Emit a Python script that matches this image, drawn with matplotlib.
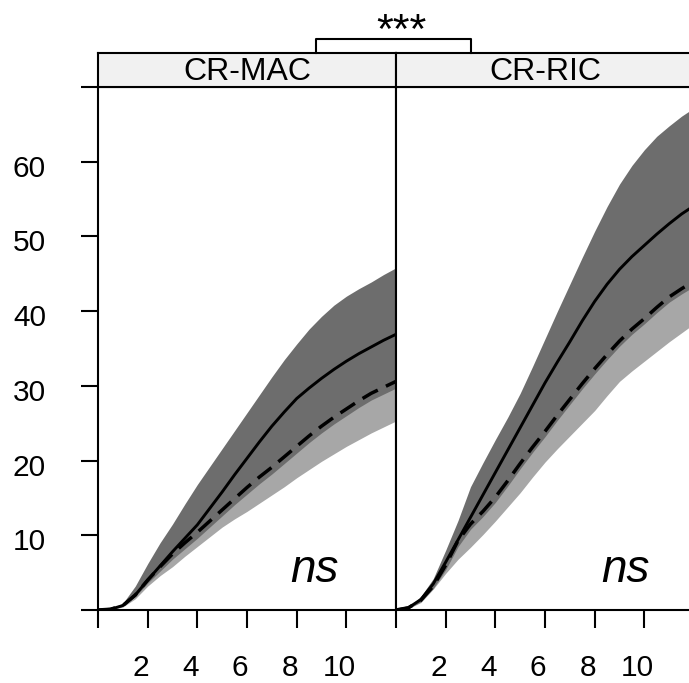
import matplotlib
matplotlib.use("Agg")
import matplotlib.pyplot as plt
from matplotlib.lines import Line2D
from matplotlib.transforms import ScaledTranslation

plt.rcParams["font.family"] = ["Liberation Sans", "DejaVu Sans"]

# Time grid shared by both sites (half-unit steps)
time = [0, 0.5, 1, 1.5, 2, 2.5, 3, 3.5, 4, 4.5, 5, 5.5, 6, 6.5, 7, 7.5, 8,
        8.5, 9, 9.5, 10, 10.5, 11, 11.5, 12]

panels = ["CR-MAC", "CR-RIC"]

# CR-MAC
mac_solid = [0, 0.1, 0.6, 2.0, 4.0, 5.9, 7.8, 9.6, 11.4, 13.6, 15.8, 18.1, 20.3,
             22.5, 24.6, 26.5, 28.3, 29.7, 31.0, 32.2, 33.3, 34.3, 35.2, 36.1, 36.9]
mac_solid_hi = [0, 0.2, 0.9, 3.2, 6.2, 9.0, 11.5, 14.2, 16.8, 19.2, 21.6, 24.0, 26.4,
                28.8, 31.2, 33.5, 35.6, 37.6, 39.3, 40.8, 42.0, 43.0, 43.9, 44.9, 45.8]
mac_solid_lo = [0, 0.05, 0.5, 1.8, 3.6, 5.2, 6.8, 8.2, 9.6, 11.1, 12.6, 14.1, 15.5,
                16.9, 18.2, 19.6, 21.0, 22.4, 23.7, 24.9, 26.0, 27.1, 28.1, 28.9, 29.7]
mac_dashed = [0, 0.1, 0.6, 2.0, 4.0, 5.8, 7.5, 9.0, 10.4, 11.9, 13.4, 14.9, 16.4,
              17.8, 19.1, 20.5, 21.9, 23.3, 24.6, 25.8, 26.9, 28.0, 29.0, 29.8, 30.6]
mac_dashed_hi = [0, 0.15, 0.8, 2.6, 5.0, 7.0, 9.0, 10.8, 12.5, 14.3, 16.0, 17.8, 19.5,
                 21.1, 22.7, 24.3, 25.8, 27.3, 28.7, 30.0, 31.2, 32.4, 33.5, 34.5, 35.4]
mac_dashed_lo = [0, 0.05, 0.4, 1.5, 3.2, 4.6, 5.8, 7.2, 8.5, 9.8, 11.1, 12.2, 13.2,
                 14.3, 15.4, 16.5, 17.7, 18.8, 19.9, 20.9, 21.9, 22.8, 23.7, 24.5, 25.3]

# CR-RIC
ric_solid = [0, 0.3, 1.4, 3.5, 6.4, 9.4, 12.4, 15.4, 18.4, 21.4, 24.4, 27.4, 30.4,
             33.2, 35.9, 38.7, 41.3, 43.6, 45.6, 47.3, 48.8, 50.3, 51.7, 53.0, 54.1]
ric_solid_hi = [0, 0.4, 1.8, 4.2, 8.0, 12.0, 16.5, 19.7, 22.8, 25.8, 29.0, 32.6, 36.3,
                40.0, 43.6, 47.2, 50.7, 54.0, 57.0, 59.5, 61.6, 63.4, 64.8, 66.1, 67.2]
ric_solid_lo = [0, 0.2, 1.1, 2.9, 5.4, 8.5, 10.8, 12.5, 14.4, 16.6, 18.9, 21.1, 23.2,
                25.4, 27.5, 29.6, 31.6, 33.5, 35.3, 36.9, 38.3, 39.8, 41.2, 42.3, 43.3]
ric_dashed = [0, 0.3, 1.3, 3.2, 6.0, 9.3, 11.5, 13.2, 15.1, 17.3, 19.6, 21.8, 23.9,
              26.1, 28.2, 30.3, 32.3, 34.2, 36.0, 37.6, 39.0, 40.5, 41.9, 43.0, 44.0]
ric_dashed_hi = [0, 0.3, 1.3, 3.3, 6.2, 9.6, 12.5, 14.7, 17.0, 19.5, 22.0, 24.5, 27.0,
                 29.3, 31.5, 33.8, 36.0, 38.1, 40.0, 41.6, 43.0, 44.5, 46.0, 47.1, 48.0]
ric_dashed_lo = [0, 0.2, 1.0, 2.8, 4.9, 6.8, 8.4, 10.1, 11.9, 13.8, 15.7, 17.8, 19.8,
                 21.6, 23.3, 25.0, 26.7, 28.7, 30.6, 32.0, 33.3, 34.6, 35.9, 37.1, 38.3]

x_ticks = [0, 2, 4, 6, 8, 10]
x_labels = ["", "2", "4", "6", "8", "10"]
y_ticks = [0, 10, 20, 30, 40, 50, 60, 70]
y_labels = ["", "10", "20", "30", "40", "50", "60", ""]

series = [
    (mac_solid, mac_solid_lo, mac_solid_hi, mac_dashed, mac_dashed_lo, mac_dashed_hi),
    (ric_solid, ric_solid_lo, ric_solid_hi, ric_dashed, ric_dashed_lo, ric_dashed_hi),
]

W, H = 689, 683
fig = plt.figure(figsize=(W / 100, H / 100), dpi=100)

def fx(px):
    return px / W

def fy(py):
    return 1 - py / H

left_px = [98, 396]
panel_w = 298
top_px, bottom_px = 87, 610
strip_top = 53
dark = "#6d6d6d"
light = "#a7a7a7"
lw_frame = 1.5

for i, name in enumerate(panels):
    solid, s_lo, s_hi, dashed, d_lo, d_hi = series[i]
    ax = fig.add_axes([fx(left_px[i]), fy(bottom_px), panel_w / W, (bottom_px - top_px) / H])
    ax.fill_between(time, d_lo, d_hi, color=light, lw=0, zorder=1)
    ax.fill_between(time, s_lo, s_hi, color=dark, lw=0, zorder=2)
    ax.plot(time, dashed, color="black", lw=2.5, ls=(0, (5, 2.6)), zorder=3,
            solid_joinstyle="round", dash_joinstyle="round")
    ax.plot(time, solid, color="black", lw=2.1, zorder=4, solid_joinstyle="round")
    ax.set_xlim(0, 12)
    ax.set_ylim(0, 70)
    ax.set_xticks(x_ticks)
    ax.set_xticklabels(x_labels, fontsize=21.5)
    ax.tick_params(axis="x", direction="out", length=13, width=lw_frame, pad=19)
    for lab in ax.get_xticklabels():
        lab.set_transform(lab.get_transform() + ScaledTranslation(-7 / 100, 0, fig.dpi_scale_trans))
    if i == 0:
        ax.set_yticks(y_ticks)
        ax.set_yticklabels(y_labels, fontsize=21.5)
        ax.tick_params(axis="y", direction="out", length=12.5, width=lw_frame, pad=25)
        for lab in ax.get_yticklabels():
            lab.set_transform(lab.get_transform() + ScaledTranslation(0, -4 / 100, fig.dpi_scale_trans))
    else:
        ax.set_yticks([])
    for sp in ax.spines.values():
        sp.set_linewidth(lw_frame)
    ax.text(9.7 if i == 0 else 10.2, 2.4, "ns", style="italic", fontsize=33,
            ha="right", va="bottom")

    # Strip with the site name
    st = fig.add_axes([fx(left_px[i]), fy(top_px), panel_w / W, (top_px - strip_top) / H])
    st.set_facecolor("#f1f1f1")
    st.set_xticks([])
    st.set_yticks([])
    for sp in st.spines.values():
        sp.set_linewidth(lw_frame)
    st.text(0.5, 0.45, name, ha="center", va="center", fontsize=23, transform=st.transAxes)

# Significance bracket between sites
bx0, bx1, by_top = 316, 471, 39
fig.add_artist(Line2D([fx(bx0), fx(bx0), fx(bx1), fx(bx1)],
                      [fy(strip_top), fy(by_top), fy(by_top), fy(strip_top)],
                      color="black", lw=lw_frame, transform=fig.transFigure))
fig.text(fx(401), fy(43), "***", ha="center", va="baseline", fontsize=31)

fig.savefig("out.png", dpi=100)
